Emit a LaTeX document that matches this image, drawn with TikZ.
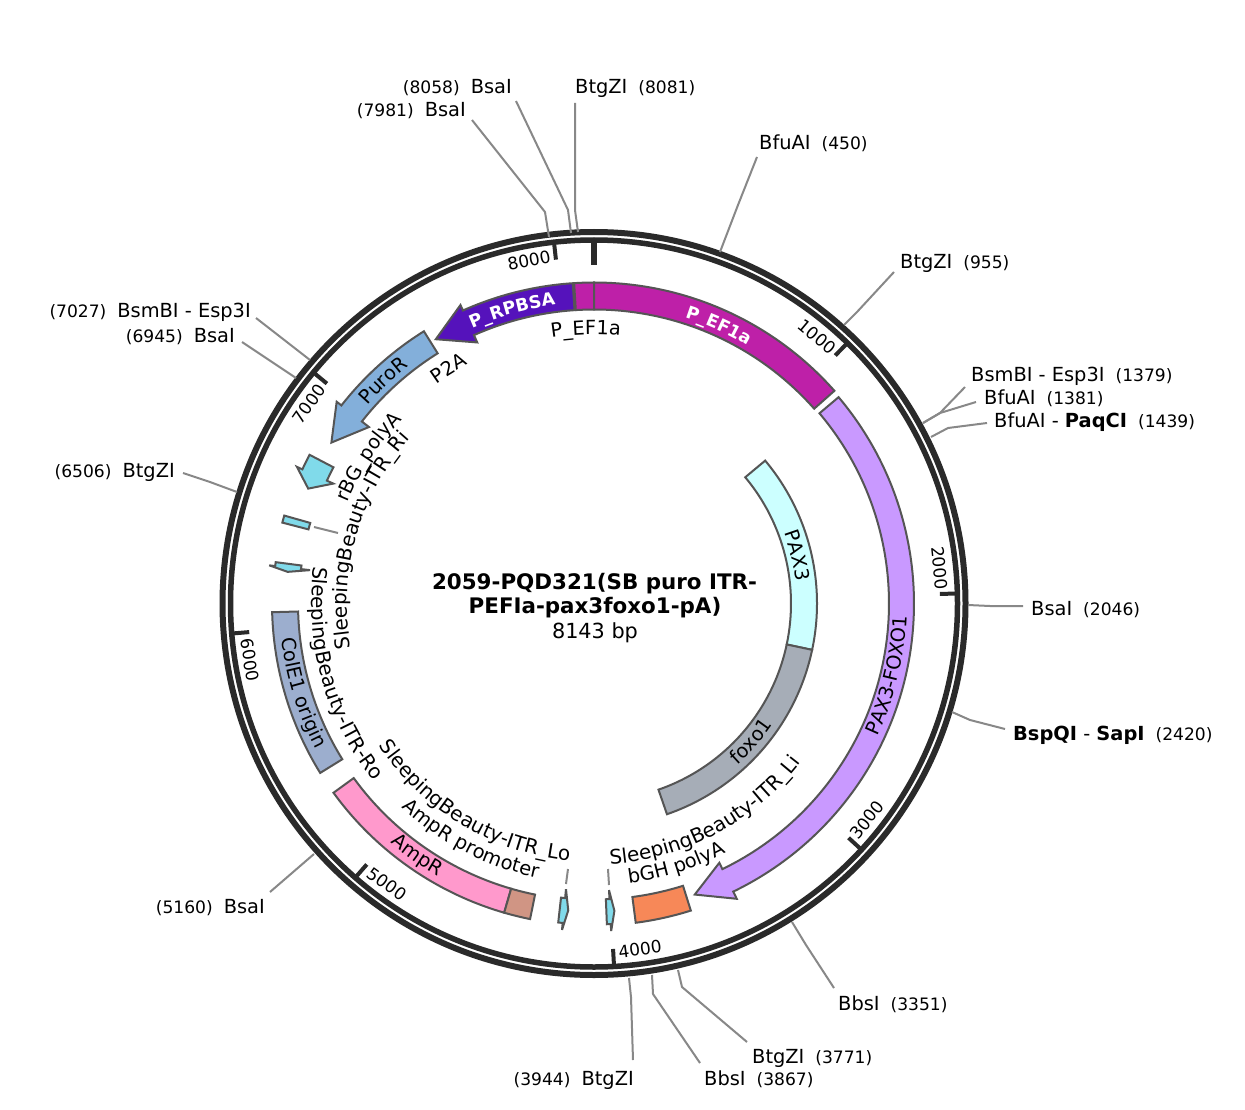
\documentclass[tikz,border=0pt]{standalone}
\usepackage{fontspec}
\setmainfont{DejaVu Sans}
\usetikzlibrary{decorations.text}
\definecolor{ringc}{HTML}{2A2A2A}
\definecolor{edgec}{HTML}{555555}
\definecolor{leadc}{HTML}{888888}
\definecolor{cEF}{HTML}{BE20A8}
\definecolor{cRP}{HTML}{5512BB}
\definecolor{cPuro}{HTML}{83AFDA}
\definecolor{cCyan}{HTML}{80DAEA}
\definecolor{cCol}{HTML}{9CAECE}
\definecolor{cAmp}{HTML}{FF99CC}
\definecolor{cProm}{HTML}{D09584}
\definecolor{cBGH}{HTML}{F78858}
\definecolor{cPF}{HTML}{C999FF}
\definecolor{cPAX}{HTML}{CCFFFF}
\definecolor{cFox}{HTML}{A6ADB7}
\newcommand{\labf}{\fontsize{19.4}{20}\selectfont}
\newcommand{\slf}{\fontsize{20}{20}\selectfont}
\newcommand{\numf}{\fontsize{17.1}{20}\selectfont}
\newcommand{\whf}{\color{white}\bfseries\fontsize{17.4}{20}\selectfont}
\newcommand{\tkf}{\fontsize{17}{20}\selectfont}
\tikzset{
  x=1pt,y=1pt,
  feat/.style={draw=edgec,line width=2pt,line join=miter},
  tickmark/.style={ringc,line width=4pt},
  leader/.style={leadc,line width=2pt},
  site/.style={inner sep=0pt,font=\labf,anchor=base west},
  siteR/.style={inner sep=0pt,font=\labf,anchor=base east},
  ticklab/.style={inner sep=0pt,font=\tkf},
}
% band: cw-start, cw-end, rin, rout, fill
\newcommand{\band}[5]{\draw[feat,fill=#5] ({90-#1}:#4) arc[start angle={90-#1},end angle={90-#2},radius=#4] -- ({90-#2}:#3) arc[start angle={90-#2},end angle={90-#1},radius=#3] -- cycle;}
% arrow: tail, shoulder, tip (cw angles); fill; rin rout wing-in wing-out; tip r 308
\newcommand{\arrowband}[8]{\draw[feat,fill=#4] ({90-#1}:#6) arc[start angle={90-#1},end angle={90-#2},radius=#6] -- ({90-#2}:#8) -- ({90-#3}:308) -- ({90-#2}:#7) -- ({90-#2}:#5) arc[start angle={90-#2},end angle={90-#1},radius=#5] -- cycle;}
% label with tops outward: centre, radius, font, text
\newcommand{\outlab}[4]{\path[decorate,decoration={text along path,text align=center,text={|#3|#4}}] ({90-#1+45}:#2) arc[start angle={90-#1+45},end angle={90-#1-45},radius=#2];}
% label with tops inward
\newcommand{\inlab}[4]{\path[decorate,decoration={text along path,text align=center,text={|#3|#4}}] ({90-#1-45}:#2) arc[start angle={90-#1-45},end angle={90-#1+45},radius=#2];}
\begin{document}
\begin{tikzpicture}
\useasboundingbox (0,0) rectangle (1245,-1110);
\fill[white] (0,0) rectangle (1245,-1110);
\begin{scope}[shift={(594,-603.5)}]
  % rings
  \draw[ringc,line width=6pt] (0,0) circle[radius=371.5];
  \draw[ringc,line width=5.5pt] (0,0) circle[radius=363.5];
  % ticks
  \draw[ringc,line width=6pt] (90:362) -- (90:339);
  \foreach \a in {44.21,88.42,132.63,176.84,221.05,265.26,309.47,353.68}
    \draw[tickmark] ({90-\a}:362) -- ({90-\a}:346);
  % features
  \band{-3.55}{0}{294}{321}{cEF}
  \band{0}{48.5}{294}{321}{cEF}
  \arrowband{-3.8}{-24.1}{-30.9}{cRP}{294}{321}{286}{327}
  \arrowband{-32}{-51.9}{-58.5}{cPuro}{295}{321}{286}{327}
  \arrowband{-62.4}{-65.3}{-68.1}{cCyan}{294}{321}{287}{327}
  \band{-74.15}{-75.45}{295}{322}{cCyan}
  \begin{scope}[miter limit=1.5]
    \arrowband{-82.6}{-83.3}{-84.1}{cCyan}{295}{321}{286}{327}
    \arrowband{-173.6}{-174.4}{-175.2}{cCyan}{296}{321}{287}{328}
    \arrowband{177.7}{177}{176.2}{cCyan}{296}{321}{287}{328}
  \end{scope}
  \band{-91.55}{-121.75}{296}{322}{cCol}
  \band{-126}{-163.8}{297}{322}{cAmp}
  \band{-163.8}{-168.55}{297}{322}{cProm}
  \band{172.55}{162.5}{296}{322}{cBGH}
  \arrowband{49.85}{154.2}{160.9}{cPF}{295}{320}{288}{328}
  \band{50.15}{102}{197}{223}{cPAX}
  \band{102}{160.9}{197}{223}{cFox}
  % feature labels
  \outlab{24.2}{300}{\whf}{P{\_}EF1a}
  \outlab{-15.6}{301}{\whf}{P{\_}RPBSA}
  \outlab{-43.4}{301}{\labf}{PuroR}
  \outlab{-1.7}{269}{\labf}{P{\_}EF1a}
  \outlab{-31.7}{270}{\labf}{P2A}
  \outlab{-57}{266}{\labf}{rBG{\_}polyA}
  \outlab{-74.3}{247}{\slf}{SleepingBeauty-ITR{\_}Ri}
  \inlab{-105.7}{282.5}{\slf}{SleepingBeauty-ITR-Ro}
  \inlab{-107}{314}{\labf}{ColE1 origin}
  \inlab{-144.9}{314}{\labf}{AmpR}
  \inlab{-152.5}{280}{\labf}{AmpR promoter}
  \inlab{-149}{258}{\slf}{SleepingBeauty-ITR{\_}Lo}
  \inlab{152}{261}{\slf}{SleepingBeauty-ITR{\_}Li}
  \inlab{162.5}{282}{\labf}{bGH polyA}
  \inlab{103.7}{313}{\labf}{PAX3-FOXO1}
  \outlab{76.6}{203}{\labf}{PAX3}
  \inlab{131.3}{216}{\labf}{foxo1}
\end{scope}
% small feature leader stubs
\coordinate (ria) at (314,-527); \coordinate (rib) at (338,-533);
\draw[leader] (ria) -- (rib);
\coordinate (loa) at (566,-884); \coordinate (lob) at (568,-869);
\draw[leader] (loa) -- (lob);
\coordinate (lia) at (609,-885); \coordinate (lib) at (608,-869);
\draw[leader] (lia) -- (lib);
% tick labels
\node[ticklab,rotate=10.7] (t8000) at (529,-260) {8000};
\node[ticklab,rotate=-40] (t1000) at (817,-337) {1000};
\node[ticklab,rotate=-84] (t2000) at (940,-568) {2000};
\node[ticklab,rotate=51.5] (t3000) at (867,-820) {3000};
\node[ticklab,rotate=7.6] (t4000) at (640,-949) {4000};
\node[ticklab,rotate=-36.4] (t5000) at (387,-884) {5000};
\node[ticklab,rotate=-80.6] (t6000) at (250,-660) {6000};
\node[ticklab,rotate=55] (t7000) at (309,-404) {7000};
% site labels
\node[siteR] (l8058) at (512,-94) {{\numf(8058)}\hspace{11pt}BsaI};
\node[siteR] (l7981) at (466,-117) {{\numf(7981)}\hspace{11pt}BsaI};
\node[site] (l8081) at (575,-94) {BtgZI\hspace{11pt}{\numf(8081)}};
\node[site] (l450) at (759,-150) {BfuAI\hspace{11pt}{\numf(450)}};
\node[site] (l955) at (900,-269) {BtgZI\hspace{11pt}{\numf(955)}};
\node[site] (l1379) at (971,-381) {BsmBI - Esp3I\hspace{11pt}{\numf(1379)}};
\node[site] (l1381) at (984,-404) {BfuAI\hspace{11pt}{\numf(1381)}};
\node[site] (l1439) at (994,-427) {BfuAI - \textbf{PaqCI}\hspace{11pt}{\numf(1439)}};
\node[site] (l2046) at (1031,-615) {BsaI\hspace{11pt}{\numf(2046)}};
\node[site] (l2420) at (1013,-740) {\textbf{BspQI} - \textbf{SapI}\hspace{11pt}{\numf(2420)}};
\node[site] (l3351) at (838,-1010) {BbsI\hspace{11pt}{\numf(3351)}};
\node[site] (l3771) at (752,-1063) {BtgZI\hspace{11pt}{\numf(3771)}};
\node[site] (l3867) at (704,-1085) {BbsI\hspace{11pt}{\numf(3867)}};
\node[siteR] (l3944) at (634,-1085) {{\numf(3944)}\hspace{11pt}BtgZI};
\node[siteR] (l5160) at (265,-913) {{\numf(5160)}\hspace{11pt}BsaI};
\node[siteR] (l6506) at (175,-477) {{\numf(6506)}\hspace{11pt}BtgZI};
\node[siteR] (l6945) at (235,-342) {{\numf(6945)}\hspace{11pt}BsaI};
\node[siteR] (l7027) at (251,-317) {{\numf(7027)}\hspace{11pt}BsmBI - Esp3I};
% leaders
\foreach \n/\px/\py/\kx/\ky/\ex/\ey in {
 7981/472/120/545/212/549/237,
 8058/516/101/568/210/571/233,
 8081/575/103/575/210/578/232,
 450/757/157/738/205/720/252,
 955/894/272/857/312/844/325,
 1379/965/387/940/413/923/423,
 1381/976/402/940/413/923/423,
 1439/987/423/948/428/931/437,
 2046/1023/606/990/606/968/605,
 2420/1005/729/970/720/952/712,
 3351/834/988/806/945/792/922,
 3771/747/1042/682/987/678/970,
 3867/700/1063/653/994/652/975,
 3944/633/1060/631/997/629/978,
 5160/270/892/292/873/314/854,
 6506/183/473/210/482/237/492,
 6945/242/342/269/360/296/378,
 7027/256/318/283/339/310/360}{
  \coordinate (f\n) at (\px,-\py);
  \coordinate (k\n) at (\kx,-\ky);
  \coordinate (e\n) at (\ex,-\ey);
  \draw[leader,line join=round] (f\n) -- (k\n) -- (e\n);
}
% centre
\node[inner sep=0pt,font=\fontsize{21.4}{24}\selectfont\bfseries] (title1) at (594.5,-583.5) {2059-PQD321(SB puro ITR-};
\node[inner sep=0pt,font=\fontsize{21.4}{24}\selectfont\bfseries] (title2) at (595,-608) {PEFIa-pax3foxo1-pA)};
\node[inner sep=0pt,font=\fontsize{20.8}{24}\selectfont] (title3) at (595,-633) {8143 bp};
\end{tikzpicture}
\end{document}
